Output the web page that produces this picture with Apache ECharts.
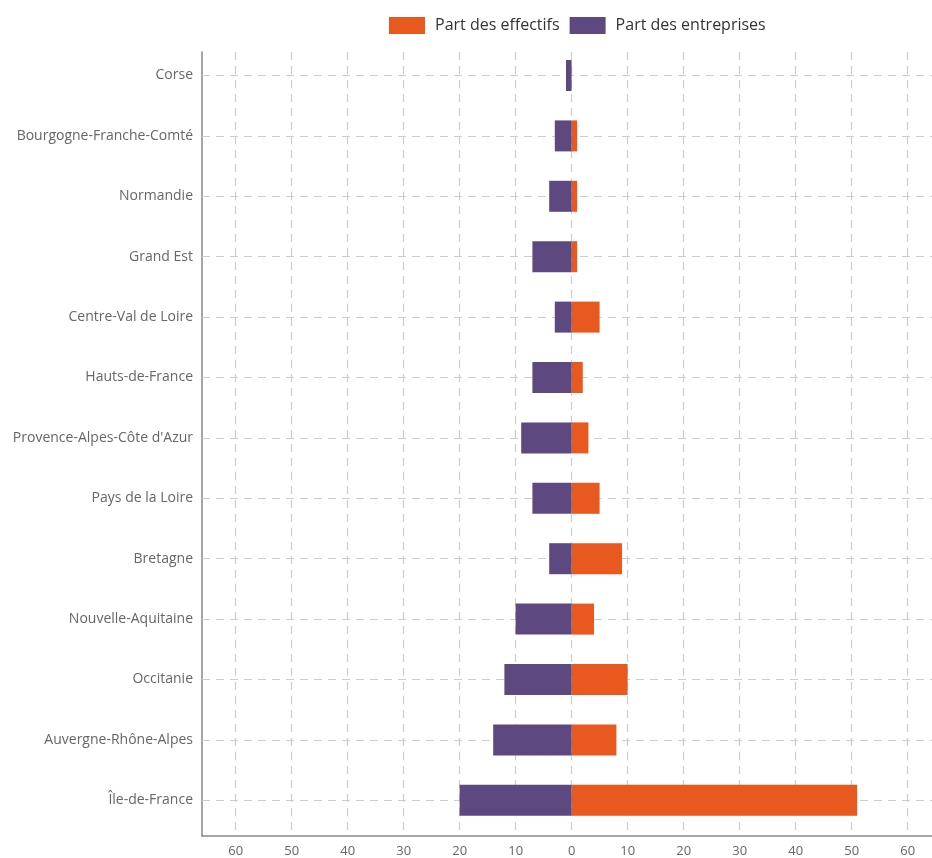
<!DOCTYPE html>
<html>
<head>
<meta charset="utf-8">
<script src="https://cdn.jsdelivr.net/npm/echarts@6/dist/echarts.min.js"></script>
<style>html,body{margin:0;padding:0;background:#fff}#c{width:932px;height:858px}</style>
</head>
<body>
<div id="c"></div>
<script>
const regions = ['Corse','Bourgogne-Franche-Comté','Normandie','Grand Est','Centre-Val de Loire','Hauts-de-France',"Provence-Alpes-Côte d'Azur",'Pays de la Loire','Bretagne','Nouvelle-Aquitaine','Occitanie','Auvergne-Rhône-Alpes','Île-de-France'];
const partEffectifs = [0, 1, 1, 1, 5, 2, 3, 5, 9, 4, 10, 8, 51];
const partEntreprises = [1, 3, 4, 7, 3, 7, 9, 7, 4, 10, 12, 14, 20];
const xTickMin = -60, xTickMax = 60, xTickStep = 10;

const FONT = '"Open Sans", "Noto Sans", sans-serif';
const ORANGE = '#E8591F';
const PURPLE = '#5E4880';
const GRIDLINE = {color: '#cccccc', type: [8,6], width: 1.2};
const AXISLINE = {color: '#888', width: 1.5};

const chart = echarts.init(document.getElementById('c'), null, {renderer: 'canvas'});
chart.setOption({
  animation: false,
  backgroundColor: '#fff',
  legend: {
    top: 12, left: 384,
    itemWidth: 36, itemHeight: 17, itemGap: 10,
    icon: 'rect',
    textStyle: {fontFamily: FONT, fontSize: 16, color: '#333', padding: [0,0,0,5]},
    data: ['Part des effectifs', 'Part des entreprises']
  },
  grid: [
    {left: 202, right: 0, top: 45.3, bottom: 27.5},
    {left: 235.7, right: 24.3, top: 52, bottom: 22},
    {left: 202, right: 0, top: 52, bottom: 22}
  ],
  xAxis: [
    {type: 'value', gridIndex: 0, min: -66, max: 64.36, show: false},
    {type: 'value', gridIndex: 1, min: xTickMin, max: xTickMax, interval: xTickStep,
      axisLine: {show: false},
      axisTick: {show: false},
      axisLabel: {margin: 13, fontFamily: FONT, fontSize: 13, color: '#666',
        formatter: v => String(Math.abs(v))},
      splitLine: {show: true, lineStyle: GRIDLINE}
    },
    {type: 'value', gridIndex: 2, min: 0, max: 1,
      axisLine: {show: true, onZero: false, lineStyle: AXISLINE},
      axisTick: {show: false}, axisLabel: {show: false}, splitLine: {show: false}
    }
  ],
  yAxis: [
    {type: 'category', gridIndex: 0, data: regions, inverse: true,
      axisLine: {show: false}, axisTick: {show: false}, splitLine: {show: false},
      axisLabel: {margin: 9, fontFamily: FONT, fontSize: 14, color: '#666'}
    },
    {type: 'value', gridIndex: 1, min: 0, max: 1, show: false},
    {type: 'value', gridIndex: 2, min: 0, max: 1,
      axisLine: {show: true, onZero: false, lineStyle: AXISLINE},
      axisTick: {show: false}, axisLabel: {show: false}, splitLine: {show: false}
    }
  ],
  series: [
    {
      name: 'Part des effectifs', type: 'bar', stack: 'tot',
      xAxisIndex: 0, yAxisIndex: 0,
      barWidth: 31, z: 3,
      itemStyle: {color: ORANGE},
      data: partEffectifs,
      markLine: {
        silent: true, symbol: 'none', z: 1,
        label: {show: false},
        lineStyle: GRIDLINE,
        data: regions.map(r => ({yAxis: r}))
      }
    },
    {
      name: 'Part des entreprises', type: 'bar', stack: 'tot',
      xAxisIndex: 0, yAxisIndex: 0,
      barWidth: 31, z: 3,
      itemStyle: {color: PURPLE},
      data: partEntreprises.map(v => -v)
    }
  ]
});
</script>
</body>
</html>
